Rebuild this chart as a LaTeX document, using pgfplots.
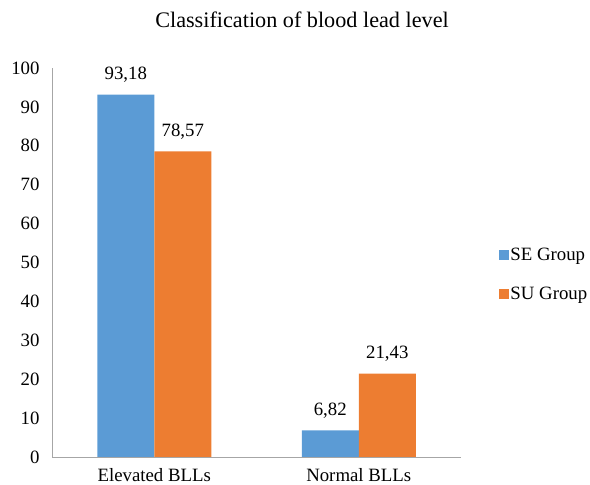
\documentclass[border=0pt]{standalone}
\usepackage{pgfplots}
\pgfplotsset{compat=1.18}
\usepackage{fontspec}
\setmainfont{Liberation Serif}
\definecolor{seblue}{HTML}{5B9BD5}
\definecolor{suorange}{HTML}{ED7D31}
\newcommand{\lblfont}{\fontsize{18.8bp}{22bp}\selectfont}
\begin{document}
\begin{tikzpicture}
\begin{axis}[
  at={(52bp,28bp)}, anchor=south west,
  scale only axis, width=409bp, height=389bp,
  ybar=0pt, bar width=57bp,
  xmin=-0.5, xmax=1.5, ymin=0, ymax=100,
  xtick={0,1}, xticklabels={Elevated BLLs, Normal BLLs},
  ytick={0,10,...,100},
  major tick length=0pt,
  axis x line*=bottom, axis y line*=left,
  axis line style={draw=gray!70, line width=0.8bp},
  /pgf/number format/assume math mode=true,
  tick label style={font=\lblfont},
  yticklabel style={xshift=-9bp},
  xticklabel style={yshift=-8bp},
  nodes near coords={\pgfmathprintnumber[fixed,fixed zerofill,precision=2,use comma]{\pgfplotspointmeta}},
  every node near coord/.append style={font=\lblfont, anchor=base, yshift=15bp, /pgf/number format/assume math mode=true},
  legend style={at={(1.085,0.469)}, anchor=west, draw=none, font=\lblfont,
    row sep=22bp, nodes={inner sep=1.5bp}},
  legend cell align=left,
  legend image code/.code={\fill[#1] (0bp,-5bp) rectangle (10bp,5bp);},
]
\addplot[fill=seblue, draw=none] coordinates {(0,93.18) (1,6.82)};
\addlegendentry{SE Group}
\addplot[fill=suorange, draw=none] coordinates {(0,78.57) (1,21.43)};
\addlegendentry{SU Group}
\end{axis}
\node[anchor=base, font=\fontsize{22.2bp}{26bp}\selectfont] at (302bp,457bp) {Classification of blood lead level};
\pgfresetboundingbox
\path[use as bounding box] (0,0) rectangle (590bp,485bp);
\end{tikzpicture}
\end{document}
